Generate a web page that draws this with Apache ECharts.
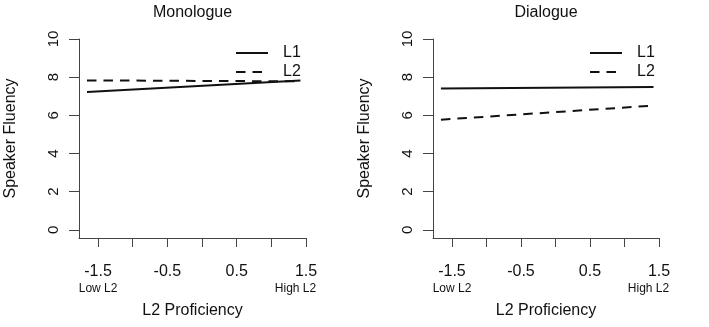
<!DOCTYPE html>
<html>
<head>
<meta charset="utf-8">
<script src="https://cdn.jsdelivr.net/npm/echarts@6/dist/echarts.min.js"></script>
<style>
  html, body { margin: 0; padding: 0; background: #fff; }
  #chart { width: 709px; height: 327px; }
</style>
</head>
<body>
<div id="chart"></div>
<script>
// data
const panels = ['Monologue', 'Dialogue']
const proficiency = [-1.66, 1.42]
const monoL1 = [7.22, 7.82]
const monoL2 = [7.83, 7.78]
const dialL1 = [7.40, 7.49]
const dialL2 = [5.77, 6.51]

const xTicks = [-1.5, -1, -0.5, 0, 0.5, 1, 1.5]
const xLabels = [-1.5, -0.5, 0.5, 1.5]
const xEndLabels = [-1.5, 1.5]
const yTicks = [0, 2, 4, 6, 8, 10]

const ink = '#111'
const axisColor = '#444'
const font = 'Liberation Sans, Arial, sans-serif'

const grids = [
  { left: 79, top: 39, width: 227, height: 199 },
  { left: 433, top: 39, width: 226, height: 199 }
]

function pairs(xs, ys) {
  return xs.map((x, i) => [x, ys[i]])
}

let xAxes = []
let yAxes = []
grids.forEach((g, i) => {
  xAxes.push({
    type: 'value', gridIndex: i, min: -1.775, max: 1.5,
    name: 'L2 Proficiency', nameLocation: 'middle', nameGap: 65,
    nameTextStyle: { fontSize: 16, color: ink, fontFamily: font },
    axisLine: { show: true, onZero: false, lineStyle: { color: axisColor, width: 1 } },
    axisTick: { show: true, length: 9, customValues: xTicks, lineStyle: { color: axisColor } },
    axisLabel: { customValues: xLabels, margin: 26, fontSize: 16, color: ink, fontFamily: font },
    splitLine: { show: false }
  })
  // second row of labels: Low L2 / High L2
  xAxes.push({
    type: 'value', gridIndex: i, min: -1.775, max: 1.5, position: 'bottom',
    axisLine: { show: false }, axisTick: { show: false }, splitLine: { show: false },
    axisLabel: {
      customValues: xEndLabels, margin: 45, color: ink, fontFamily: font,
      formatter: v => v < 0 ? '{lo|Low L2}' : '{hi|High L2}',
      rich: {
        lo: { fontSize: 12, color: ink, fontFamily: font },
        hi: { fontSize: 12, color: ink, fontFamily: font, padding: [0, 21, 0, 0] }
      }
    }
  })
  yAxes.push({
    type: 'value', gridIndex: i, min: -0.43, max: 10,
    name: 'Speaker Fluency', nameLocation: 'middle', nameGap: 60,
    nameTextStyle: { fontSize: 16, color: ink, fontFamily: font },
    axisLine: { show: true, onZero: false, lineStyle: { color: axisColor, width: 1 } },
    axisTick: { show: true, length: 10, customValues: yTicks, lineStyle: { color: axisColor } },
    axisLabel: { customValues: yTicks, rotate: 90, margin: 18, fontSize: 15, color: ink, fontFamily: font },
    splitLine: { show: false }
  })
})

function lineSeries(name, data, idx, dashed) {
  return {
    name: name, type: 'line', xAxisIndex: idx * 2, yAxisIndex: idx,
    data: pairs(proficiency, data), symbol: 'none', silent: true,
    lineStyle: { color: ink, width: 2, type: dashed ? [9.5, 7] : 'solid' },
    itemStyle: { color: ink }
  }
}

let chart = echarts.init(document.getElementById('chart'))
let option = {
  backgroundColor: '#fff',
  animation: false,
  title: panels.map((t, i) => ({
    text: t, left: grids[i].left + grids[i].width / 2, top: 5, padding: 0,
    textAlign: 'center',
    textStyle: { fontSize: 16, fontWeight: 'normal', color: ink, fontFamily: font }
  })),
  legend: [235, 589].map(x => ({
    data: ['L1', 'L2'], orient: 'vertical', left: x, top: 45,
    itemWidth: 32, itemHeight: 16, itemGap: 3, padding: 0,
    selectedMode: false,
    itemStyle: { opacity: 0 },
    textStyle: { fontSize: 16, color: ink, fontFamily: font, padding: [0, 0, 0, 10] }
  })),
  grid: grids,
  xAxis: xAxes,
  yAxis: yAxes,
  series: [
    lineSeries('L1', monoL1, 0, false),
    lineSeries('L2', monoL2, 0, true),
    lineSeries('L1', dialL1, 1, false),
    lineSeries('L2', dialL2, 1, true)
  ]
}
chart.setOption(option)

window.addEventListener('resize', () => {
  chart.resize()
})
</script>
</body>
</html>
